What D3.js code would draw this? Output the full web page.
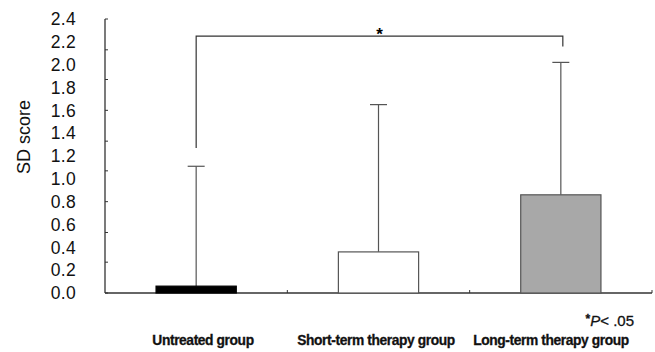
<!DOCTYPE html>
<html>
<head>
<meta charset="utf-8">
<script src="https://cdn.jsdelivr.net/npm/d3@7"></script>
<style>
  body { margin: 0; background: #fff; }
  svg { display: block; }
</style>
</head>
<body>
<div id="chart-area"></div>
<script>
// data
const categories = ["Untreated group", "Short-term therapy group", "Long-term therapy group"]
const means = [0.06, 0.36, 0.86]
const upperErr = [1.11, 1.65, 2.02]
const barColors = ["#000000", "#ffffff", "#a8a8a8"]
const yLabels = [0, 0.2, 0.4, 0.6, 0.8, 1.0, 1.2, 1.4, 1.6, 1.8, 2.0, 2.2, 2.4]
// the small axis tick marks don't line up with the labels in the original
const yTickMarks = [0, 0.27, 0.53, 0.8, 1.07, 1.33, 1.6, 1.87, 2.13, 2.4]
const bracketLevel = 2.25
const bracketEnds = [1.27, 2.16]

const W = 655, H = 352
const MARGIN = { LEFT: 105, RIGHT: 3, TOP: 19, BOTTOM: 59 }
const WIDTH = W - MARGIN.LEFT - MARGIN.RIGHT
const HEIGHT = H - MARGIN.TOP - MARGIN.BOTTOM

const svg = d3.select("#chart-area").append("svg")
  .attr("width", W)
  .attr("height", H)

const g = svg.append("g")
  .attr("transform", "translate(" + MARGIN.LEFT + ", " + MARGIN.TOP + ")")

const x = d3.scaleBand()
  .domain(categories)
  .range([0, WIDTH])
  .paddingInner(0.56)
  .paddingOuter(0.28)

const y = d3.scaleLinear()
  .domain([0, 2.4])
  .range([HEIGHT, 0])

const band = x.step()
const cx = function(c) { return x(c) + x.bandwidth() / 2 }

// Y axis line + tick labels
g.append("line")
  .attr("x1", 0).attr("x2", 0)
  .attr("y1", y(2.4)).attr("y2", y(0))
  .attr("stroke", "#333").attr("stroke-width", 1.3)

g.selectAll(".ytick")
  .data(yTickMarks)
  .enter().append("line")
  .attr("x1", 0).attr("x2", 3)
  .attr("y1", function(d) { return y(d) })
  .attr("y2", function(d) { return y(d) })
  .attr("stroke", "#333")

g.selectAll(".ylab")
  .data(yLabels)
  .enter().append("text")
  .attr("x", -29)
  .attr("y", function(d) { return y(d) })
  .attr("dy", "0.36em")
  .attr("text-anchor", "end")
  .attr("font-family", "Liberation Sans, Arial, sans-serif")
  .attr("font-size", "17.5px")
  .attr("letter-spacing", "0.3px")
  .attr("fill", "#111")
  .text(function(d) { return d.toFixed(1) })

// Y label
g.append("text")
  .attr("x", -(y(1.2) - 19))
  .attr("y", -75)
  .attr("transform", "rotate(-90)")
  .attr("text-anchor", "middle")
  .attr("font-family", "Liberation Sans, Arial, sans-serif")
  .attr("font-size", "18px")
  .attr("fill", "#111")
  .text("SD score")

// X baseline with category ticks
g.append("line")
  .attr("x1", 0).attr("x2", WIDTH)
  .attr("y1", y(0)).attr("y2", y(0))
  .attr("stroke", "#333").attr("stroke-width", 1.5)

g.selectAll(".xtick")
  .data(categories)
  .enter().append("line")
  .attr("x1", function(d) { return x(d) + x.bandwidth() / 2 + band / 2 })
  .attr("x2", function(d) { return x(d) + x.bandwidth() / 2 + band / 2 })
  .attr("y1", y(0)).attr("y2", y(0) - 3)
  .attr("stroke", "#333")

// error bars (upper only)
g.selectAll(".err")
  .data(categories)
  .enter().append("line")
  .attr("x1", cx).attr("x2", cx)
  .attr("y1", function(d, i) { return y(means[i]) })
  .attr("y2", function(d, i) { return y(upperErr[i]) })
  .attr("stroke", "#555").attr("stroke-width", 1.2)

g.selectAll(".cap")
  .data(categories)
  .enter().append("line")
  .attr("x1", function(d) { return cx(d) - 8.5 })
  .attr("x2", function(d) { return cx(d) + 8.5 })
  .attr("y1", function(d, i) { return y(upperErr[i]) })
  .attr("y2", function(d, i) { return y(upperErr[i]) })
  .attr("stroke", "#555").attr("stroke-width", 1.2)

// bars
g.selectAll(".bar")
  .data(categories)
  .enter().append("rect")
  .attr("x", function(d) { return x(d) })
  .attr("y", function(d, i) { return y(means[i]) })
  .attr("width", x.bandwidth())
  .attr("height", function(d, i) { return HEIGHT - y(means[i]) })
  .attr("fill", function(d, i) { return barColors[i] })
  .attr("stroke", function(d, i) { return i == 0 ? "#000" : "#555" })
  .attr("stroke-width", 1.2)

// significance bracket
const bx1 = cx(categories[0]), bx2 = cx(categories[2]) + 2
g.append("path")
  .attr("d", "M" + bx1 + "," + y(bracketEnds[0]) +
             "V" + y(bracketLevel) +
             "H" + bx2 +
             "V" + y(bracketEnds[1]))
  .attr("fill", "none")
  .attr("stroke", "#333").attr("stroke-width", 1.2)

g.append("text")
  .attr("x", (bx1 + bx2) / 2)
  .attr("y", y(bracketLevel) + 4)
  .attr("text-anchor", "middle")
  .attr("font-family", "Liberation Sans, Arial, sans-serif")
  .attr("font-size", "17px")
  .attr("font-weight", "bold")
  .text("*")

// category labels
const labelX = [203, 376, 551]
g.selectAll(".xlab")
  .data(categories)
  .enter().append("text")
  .attr("x", function(d, i) { return labelX[i] - MARGIN.LEFT })
  .attr("y", 326)
  .attr("text-anchor", "middle")
  .attr("font-family", "Liberation Sans Narrow, Liberation Sans, Arial, sans-serif")
  .attr("font-size", "13.8px")
  .attr("font-weight", "bold")
  .attr("letter-spacing", "-0.4px")
  .attr("stroke", "#111").attr("stroke-width", 0.3)
  .attr("fill", "#111")
  .text(function(d) { return d })

// p-value note
const note = g.append("text")
  .attr("x", 634 - MARGIN.LEFT)
  .attr("y", 307)
  .attr("text-anchor", "end")
  .attr("font-family", "Liberation Sans, Arial, sans-serif")
  .attr("font-size", "15px")
  .attr("stroke", "#111").attr("stroke-width", 0.3)
  .attr("fill", "#111")
note.append("tspan").attr("font-weight", "bold").attr("font-size", "12px").attr("dy", "-3").text("*")
note.append("tspan").attr("font-style", "italic").attr("dy", "3").text("P")
note.append("tspan").text("< .05")
</script>
</body>
</html>
